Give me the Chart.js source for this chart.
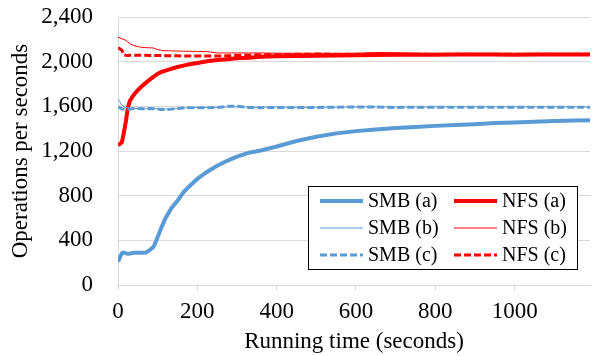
<!DOCTYPE html>
<html>
<head>
<meta charset="utf-8">
<script src="https://cdn.jsdelivr.net/npm/chart.js@4/dist/chart.umd.min.js"></script>
<style>
  body { margin: 0; background: #fff; }
  #preFonte { position: absolute; left: -2000px; top: 0; font: 23px 'Liberation Serif'; }
</style>
</head>
<body>
<span id="preFonte">Operations per seconds 2,400 SMB NFS</span>
<canvas id="opsChart" width="593" height="356"></canvas>
<script>
const times = [0, 5, 10, 15, 20, 25, 30, 40, 50, 60, 70, 80, 90, 100, 110, 120, 135, 150, 165, 180, 200,
  225, 250, 275, 300, 330, 360, 400, 450, 500, 550, 600, 650, 700, 750, 800, 850, 900, 950, 1000,
  1050, 1100, 1150, 1190];
const xTicks = [0, 200, 400, 600, 800, 1000];
const yTicks = [0, 400, 800, 1200, 1600, 2000, 2400];

const smbA = [209, 250, 285, 290, 283, 280, 282, 288, 288, 288, 290, 312, 345, 430, 520, 600, 690, 755, 830, 885, 950,
  1015, 1068, 1112, 1150, 1185, 1205, 1240, 1290, 1328, 1358, 1378, 1392, 1405, 1415, 1425, 1433, 1440, 1450, 1455,
  1462, 1468, 1474, 1475];
const nfsA = [1255, 1262, 1280, 1370, 1470, 1590, 1650, 1705, 1745, 1780, 1810, 1840, 1865, 1893, 1908, 1920, 1937, 1952, 1965, 1977, 1988,
  2003, 2015, 2022, 2030, 2036, 2044, 2048, 2050, 2053, 2055, 2057, 2060, 2062, 2063, 2063, 2064, 2064, 2065, 2063,
  2065, 2065, 2064, 2065];
const smbB = [1670, 1640, 1610, 1595, 1590, 1588, 1585, 1583, 1580, 1580, 1578, 1578, 1580, 1578, 1575, 1575, 1578, 1580, 1585, 1588, 1590,
  1590, 1592, 1595, 1597, 1592, 1592, 1595, 1590, 1592, 1592, 1595, 1595, 1595, 1593, 1595, 1595, 1595, 1595, 1595,
  1595, 1595, 1595, 1595];
const nfsB = [2218, 2212, 2205, 2198, 2190, 2175, 2160, 2145, 2135, 2128, 2126, 2124, 2122, 2108, 2100, 2098, 2097, 2095, 2094, 2093, 2092,
  2090, 2078, 2078, 2078, 2078, 2078, 2076, 2075, 2075, 2074, 2075, 2082, 2080, 2076, 2072, 2072, 2070, 2070, 2070,
  2070, 2068, 2068, 2068];
const smbC = [1595, 1585, 1578, 1575, 1575, 1575, 1577, 1580, 1580, 1578, 1577, 1580, 1578, 1575, 1572, 1570, 1575, 1580, 1585, 1587, 1588,
  1588, 1590, 1600, 1600, 1590, 1588, 1590, 1590, 1590, 1592, 1595, 1595, 1590, 1592, 1592, 1592, 1592, 1592, 1592,
  1592, 1592, 1592, 1592];
const nfsC = [2123, 2115, 2100, 2060, 2057, 2055, 2057, 2058, 2058, 2058, 2057, 2056, 2055, 2055, 2055, 2054, 2053, 2052, 2050, 2050, 2050,
  2050, 2050, 2052, 2055, 2058, 2062, 2063, 2066, 2068, 2067, 2066, 2066, 2066, 2066, 2066, 2066, 2066, 2066, 2066,
  2066, 2066, 2066, 2066];

const BLUE = "#5b9bd5";
const RED = "#ff0000";
const FONT = "'Liberation Serif', 'Times New Roman', serif";
const GRID = "#d9d9d9";

function serie(label, data, color, width, dash, order) {
  return {
    label: label,
    data: data,
    borderColor: color,
    backgroundColor: color,
    borderWidth: width,
    borderDash: dash,
    pointRadius: 0,
    tension: 0,
    fill: false,
    order: order,
  };
}

// legenda dentro do grafico, com moldura preta
const legendaBox = {
  id: "legendaBox",
  afterDraw(chart) {
    const c = chart.ctx;
    const x0 = 308, y0 = 186, w = 269, h = 83;
    c.save();
    c.fillStyle = "#fff";
    c.fillRect(x0, y0, w, h);
    c.strokeStyle = "#000";
    c.lineWidth = 1;
    c.strokeRect(x0 + 0.5, y0 + 0.5, w, h);
    c.font = "20px " + FONT;
    c.textBaseline = "middle";
    c.fillStyle = "#000";
    const cols = [320, 454];
    const rows = [201, 228, 255];
    chart.data.datasets.forEach((ds, i) => {
      const lx = cols[i % 2];
      const ly = rows[Math.floor(i / 2)];
      c.beginPath();
      c.strokeStyle = ds.borderColor;
      c.lineWidth = ds.borderWidth;
      c.setLineDash(ds.borderDash || []);
      c.moveTo(lx, ly);
      c.lineTo(lx + 43, ly);
      c.stroke();
      c.setLineDash([]);
      c.fillText(ds.label, lx + 48, ly + 1);
    });
    c.restore();
  },
};

const ctx = document.getElementById("opsChart").getContext("2d");
const opsChart = new Chart(ctx, {
  type: "line",
  data: {
    labels: times,
    datasets: [
      serie("SMB (a)", smbA, BLUE, 4, [], 6),
      serie("NFS (a)", nfsA, RED, 4, [], 5),
      serie("SMB (b)", smbB, BLUE, 1, [], 4),
      serie("NFS (b)", nfsB, RED, 1, [], 3),
      serie("SMB (c)", smbC, BLUE, 3, [7, 3], 2),
      serie("NFS (c)", nfsC, RED, 3, [7, 3], 1),
    ],
  },
  options: {
    responsive: false,
    animation: false,
    layout: { padding: { left: 0, right: 3, top: 17, bottom: 0 } },
    plugins: { legend: { display: false }, tooltip: { enabled: false } },
    scales: {
      x: {
        type: "linear",
        min: 0,
        max: 1190,
        afterFit: s => { s.height = 71; },
        afterBuildTicks: s => { s.ticks = xTicks.map(v => ({ value: v })); },
        ticks: {
          autoSkip: false,
          maxRotation: 0,
          padding: 8,
          color: "#000",
          font: { family: FONT, size: 23 },
          callback: v => String(v),
        },
        grid: { drawOnChartArea: false, drawTicks: true, tickLength: 5, color: GRID },
        border: { color: GRID },
        title: {
          display: true,
          text: "Running time (seconds)",
          color: "#000",
          font: { family: FONT, size: 23 },
          padding: { top: 0, bottom: 0 },
        },
      },
      y: {
        min: 0,
        max: 2400,
        afterFit: s => { s.width = 118; },
        afterBuildTicks: s => { s.ticks = yTicks.map(v => ({ value: v })); },
        ticks: {
          padding: 0,
          color: "#000",
          font: { family: FONT, size: 23 },
          callback: v => v.toLocaleString("en-US"),
        },
        grid: { color: GRID, drawTicks: true, tickLength: 25, tickColor: "rgba(0,0,0,0)" },
        border: { color: GRID },
        title: {
          display: true,
          text: "Operations per seconds",
          color: "#000",
          font: { family: FONT, size: 23 },
          padding: { top: 7, bottom: 0 },
        },
      },
    },
  },
  plugins: [legendaBox],
});

// redesenha quando a fonte serifada estiver pronta
document.fonts.ready.then(() => opsChart.update());
setTimeout(() => opsChart.update(), 100);
</script>
</body>
</html>
